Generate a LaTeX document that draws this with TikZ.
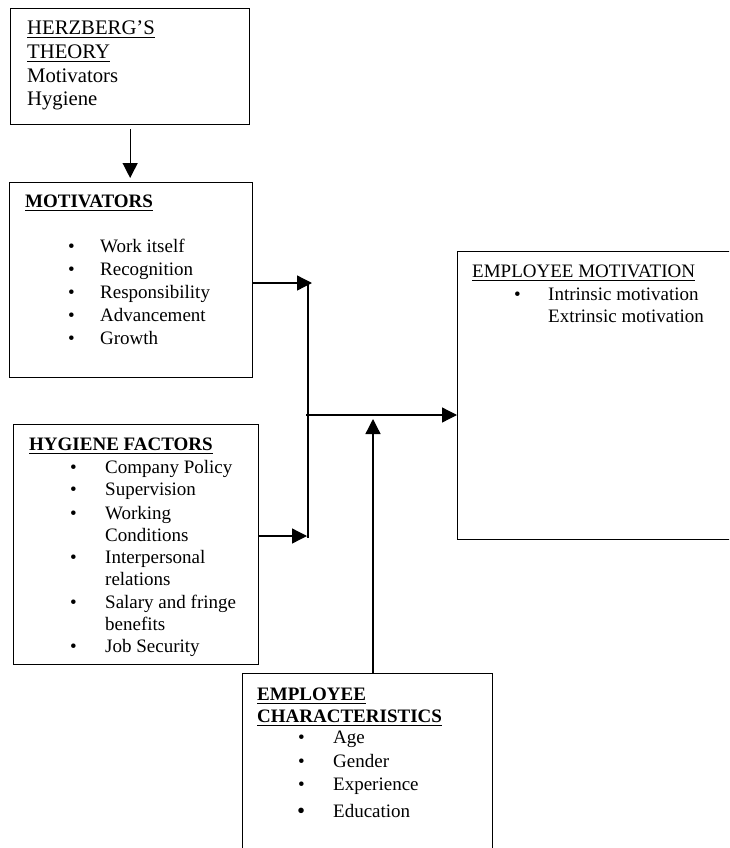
\documentclass[tikz,border=0pt]{standalone}
\usepackage{fontspec}
\setmainfont{Liberation Serif}
\usetikzlibrary{arrows.meta,calc}
\newcommand\tline[4]{\node[txt] (#1) at (#2,#3) {#4};}
\newcommand\bline[5]{\node[txt] (#1b) at (#2,#4) {\textbullet}; \node[txt] (#1) at (#3,#4) {#5};}
\newcommand\ulnode[1]{\draw[uln] ($(#1.base west)+(0,3)$) -- ($(#1.base east)+(0,3)$);}
\begin{document}
\begin{tikzpicture}[x=1pt,y=-1pt,
  boxst/.style={draw, line width=1.3pt, inner sep=0pt, anchor=north west},
  txt/.style={anchor=base west, inner sep=0pt, font=\fontsize{19}{23}\selectfont},
  bigtxt/.style={txt, font=\fontsize{20.7}{24}\selectfont},
  uln/.style={line width=1pt},
  arr/.style={line width=1.3pt, -{Triangle[length=15pt,width=15pt]}},
  ln/.style={line width=1.3pt}]
\useasboundingbox (0,0) rectangle (729,848);
\clip (0,0) rectangle (729,848);
% boxes
\node[boxst, minimum width=239pt, minimum height=116pt] (herz) at (10,8) {};
\node[boxst, minimum width=243pt, minimum height=195pt] (mot) at (9,182) {};
\node[boxst, minimum width=245pt, minimum height=240pt] (hyg) at (13,424) {};
\node[boxst, minimum width=300pt, minimum height=288pt] (em) at (457,251) {};
\node[boxst, minimum width=250pt, minimum height=200pt] (ec) at (242,673) {};
% Herzberg text
\node[bigtxt] (h1) at (27,35) {HERZBERG'S};\ulnode{h1}
\node[bigtxt] (h2) at (27,59) {THEORY};\ulnode{h2}
\node[bigtxt] (h3) at (27,83) {Motivators};
\node[bigtxt] (h4) at (27,106) {Hygiene};
% Motivators
\tline{m0}{25}{207}{\textbf{MOTIVATORS}}\ulnode{m0}
\bline{m1}{68}{100}{252}{Work itself}
\bline{m2}{68}{100}{275}{Recognition}
\bline{m3}{68}{100}{298}{Responsibility}
\bline{m4}{68}{100}{321}{Advancement}
\bline{m5}{68}{100}{344}{Growth}
% Hygiene
\tline{g0}{29}{450}{\textbf{HYGIENE FACTORS}}\ulnode{g0}
\bline{g1}{70}{105}{473}{Company Policy}
\bline{g2}{70}{105}{495}{Supervision}
\bline{g3}{70}{105}{519}{Working}
\tline{g3b}{105}{541}{Conditions}
\bline{g4}{70}{105}{563}{Interpersonal}
\tline{g4b}{105}{585}{relations}
\bline{g5}{70}{105}{608}{Salary and fringe}
\tline{g5b}{105}{630}{benefits}
\bline{g6}{70}{105}{652}{Job Security}
% Employee motivation
\tline{e0}{472}{277}{EMPLOYEE MOTIVATION}\ulnode{e0}
\bline{e1}{514}{548}{300}{Intrinsic motivation}
\tline{e2}{548}{322}{Extrinsic motivation}
% Employee characteristics
\tline{c0}{257}{700}{\textbf{EMPLOYEE}}\ulnode{c0}
\tline{c0b}{257}{722}{\textbf{CHARACTERISTICS}}\ulnode{c0b}
\bline{c1}{298}{333}{743}{Age}
\bline{c2}{298}{333}{767}{Gender}
\bline{c3}{298}{333}{790}{Experience}
\node[txt, font=\fontsize{23}{26}\selectfont] (c4b) at (297,818) {\textbullet};
\tline{c4}{333}{817}{Education}
% connectors
\coordinate (jtop) at (308,283);
\coordinate (jbot) at (308,538);
\coordinate (jmid) at (306,415);
\coordinate (jup) at (373,419);
\draw[arr] ($(herz.south)+(0,4)$) -- ($(herz.south |- mot.north)+(0,-4)$);
\draw[arr] (mot.east |- jtop) -- ($(jtop)+(4,0)$);
\draw[arr] (hyg.east |- 0,536) -- (307,536);
\draw[ln] (jtop) -- (jbot);
\draw[arr] (jmid) -- (em.west |- jmid);
\draw[arr] (ec.north -| jup) -- (jup);
\end{tikzpicture}
\end{document}
